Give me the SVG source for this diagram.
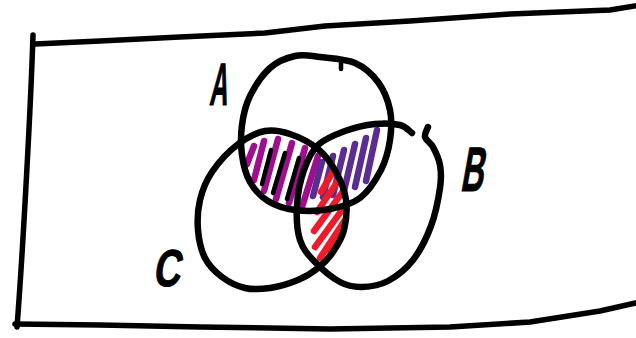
<svg xmlns="http://www.w3.org/2000/svg" width="636" height="338" viewBox="0 0 636 338">
<style>
.ink{fill:none;stroke:#000;stroke-width:6.5;stroke-linecap:round;stroke-linejoin:round}
.frame{fill:none;stroke:#000;stroke-width:5.5;stroke-linecap:round;stroke-linejoin:round}
.hm{stroke:#9e0e8d;stroke-width:6.5;stroke-linecap:round;fill:none}
.hk{stroke:#000;stroke-width:4.5;stroke-linecap:round;fill:none}
.hp{stroke:#5b2d92;stroke-width:6.5;stroke-linecap:round;fill:none}
.hr{stroke:#ec1c2b;stroke-width:6.5;stroke-linecap:round;fill:none}
.lbl{font-family:"Liberation Sans",Arial,sans-serif;font-weight:bold;fill:#000;stroke:#000;stroke-width:1;stroke-linejoin:round;text-anchor:middle}
</style>
<defs>
<path id="pA" d="M320,57 C330,58.2 345.3,58.8 355,63 C364.7,67.2 372.2,74.2 378,82 C383.8,89.8 388,100.3 390,110 C392,119.7 391.5,130 390,140 C388.5,150 386,160.3 381,170 C376,179.7 368.5,191.5 360,198 C351.5,204.5 340.8,207 330,209 C319.2,211 305.3,211.3 295,210 C284.7,208.7 275.5,205.7 268,201 C260.5,196.3 254.3,189.7 250,182 C245.7,174.3 243.3,164.5 242,155 C240.7,145.5 240.7,134.8 242,125 C243.3,115.2 245.3,105.5 250,96 C254.7,86.5 262.5,74.7 270,68 C277.5,61.3 286.7,57.8 295,56 C303.3,54.2 310,55.8 320,57 Z"/>
<path id="pB" d="M412,133 C410,131.7 406.2,126.5 400,125 C393.8,123.5 384.2,123 375,124 C365.8,125 354.5,127.5 345,131 C335.5,134.5 324.8,138.5 318,145 C311.2,151.5 307.5,160 304,170 C300.5,180 297.7,193.3 297,205 C296.3,216.7 297,230.5 300,240 C303,249.5 308.3,255 315,262 C321.7,269 332.2,277.8 340,282 C347.8,286.2 354,287.2 362,287 C370,286.8 379.5,285.5 388,281 C396.5,276.5 405.8,269.2 413,260 C420.2,250.8 426.5,238 431,226 C435.5,214 438.5,198.2 440,188 C441.5,177.8 441.2,171.8 440,165 C438.8,158.2 435.5,151.7 433,147 C430.5,142.3 425.8,140.3 425,137 C424.2,133.7 427.5,128.7 428,127"/>
<path id="pC" d="M265,131 C273.8,129.2 281.2,131 290,134 C298.8,137 310.3,142.7 318,149 C325.7,155.3 331.3,163.5 336,172 C340.7,180.5 344.7,190.3 346,200 C347.3,209.7 346.2,221.3 344,230 C341.8,238.7 337.3,245.7 333,252 C328.7,258.3 323.8,263.3 318,268 C312.2,272.7 306,276.7 298,280 C290,283.3 278.8,286.7 270,288 C261.2,289.3 253,289.8 245,288 C237,286.2 228.7,282 222,277 C215.3,272 209,265.8 205,258 C201,250.2 198.8,239.7 198,230 C197.2,220.3 197.7,209.7 200,200 C202.3,190.3 205.8,181.2 212,172 C218.2,162.8 228.2,151.8 237,145 C245.8,138.2 256.2,132.8 265,131 Z"/>
<clipPath id="cA"><use href="#pA"/></clipPath>
<clipPath id="cB"><path d="M412,133 C400,124 380,122 345,131 C318,140 300,175 297,205 C296,230 300,250 315,262 C330,278 345,287 362,287 C390,285 420,255 431,226 C440,200 442,170 433,147 C428,138 420,133 412,133 Z"/></clipPath>
<clipPath id="cC"><use href="#pC"/></clipPath>
</defs>

<g id="frame">
<path class="frame" d="M33,35 C31,100 23,250 17,327"/>
<path class="frame" d="M35,44 L100,41 L180,37 L265,33 L325,26 L410,21 L510,14 L610,10 L640,5"/>
<path class="frame" d="M15,324 L100,325 L200,327 L330,329 L450,327 L530,322 L600,311 L640,302"/>
</g>

<g id="hatching">
<g clip-path="url(#cA)"><g clip-path="url(#cC)">
<path class="hm" d="M254,146 L247,164 M264,141 L254,180 M278,139 L264,191 M292,143 L276,199 M305,148 L289,203 M318,156 L302,207"/>
<path class="hk" d="M271,150 L262,184 M285,153 L273,193 M299,158 L287,199"/>
</g></g>
<g clip-path="url(#cA)"><g clip-path="url(#cB)">
<path class="hp" d="M377,130 L366,181 M366,138 L355,187 M355,144 L344,191 M344,150 L333,195 M333,156 L323,197 M322,162 L313,196"/>
</g></g>
<g clip-path="url(#cB)"><g clip-path="url(#cC)">
<path class="hr" d="M340,160 L321,192 M344,172 L317,212 M347,186 L314,231 M348,202 L315,247 M347,217 L320,258 M343,232 L326,262"/>
</g></g>
</g>

<g id="setA">
<use href="#pA" class="ink"/>
<path class="ink" d="M341,63 L341,69" style="stroke-width:4.5"/>
<text class="lbl" font-size="60" transform="translate(218,105) skewX(-7) scale(0.42,1)">A</text>
</g>
<g id="setB">
<use href="#pB" class="ink"/>
<text class="lbl" font-size="63" transform="translate(471,191) skewX(-10) scale(0.5,1)">B</text>
</g>
<g id="setC">
<use href="#pC" class="ink"/>
<text class="lbl" font-size="52" transform="translate(166,286) skewX(-10) scale(0.72,1)">C</text>
</g>
</svg>
